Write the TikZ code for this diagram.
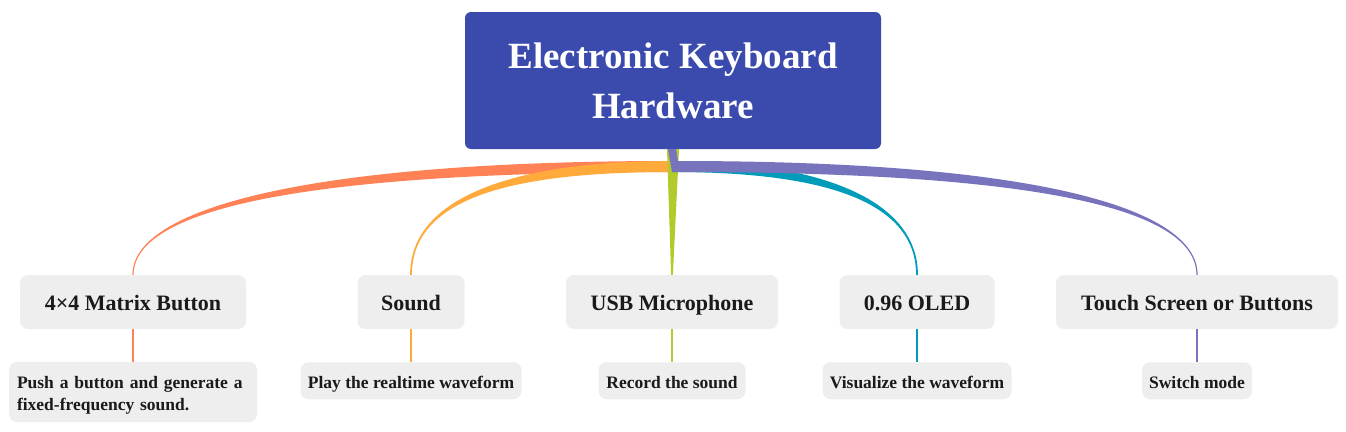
\documentclass[tikz,border=0pt]{standalone}
\usepackage{fontspec}
\setmainfont{Liberation Serif}
\usetikzlibrary{calc}
\definecolor{rootblue}{HTML}{3B4AAD}
\definecolor{boxgray}{HTML}{EEEEEE}
\definecolor{txtdark}{HTML}{1A1A1A}
\definecolor{bsalmon}{HTML}{FF8257}
\definecolor{bamber}{HTML}{FFAA3B}
\definecolor{bgreen}{HTML}{B4C92A}
\definecolor{bteal}{HTML}{009CBA}
\definecolor{bpurple}{HTML}{7773BD}
\begin{document}
\begin{tikzpicture}[x=1pt,y=-1pt,
  rootbox/.style={fill=rootblue,rounded corners=6pt,text=white,inner sep=0pt,
    minimum width=416pt,minimum height=137pt,align=center,
    font=\fontsize{37}{50}\selectfont\bfseries},
  childbox/.style={fill=boxgray,rounded corners=8pt,text=txtdark,inner sep=0pt,
    minimum height=54pt,text height=21pt,text depth=5pt,
    font=\fontsize{22}{26}\selectfont\bfseries},
  leafbox/.style={fill=boxgray,rounded corners=8pt,text=txtdark,inner sep=0pt,
    minimum height=37pt,font=\fontsize{17.5}{22}\selectfont\bfseries},
  leafone/.style={leafbox,text height=18pt,text depth=3.5pt},
  leafline/.style={line width=2pt}]
\useasboundingbox (0,0) rectangle (1346,431);

% nodes
\node[rootbox] (root) at (673,80.5) {Electronic Keyboard\\Hardware};
\node[childbox,minimum width=226pt] (n1) at (133,302) {4×4 Matrix Button};
\node[childbox,minimum width=107pt] (n2) at (411,302) {Sound};
\node[childbox,minimum width=212pt] (n3) at (672,302) {USB Microphone};
\node[childbox,minimum width=155pt] (n4) at (917,302) {0.96 OLED};
\node[childbox,minimum width=282pt] (n5) at (1197,302) {Touch Screen or Buttons};

\node[leafbox,minimum height=60pt,text width=232pt,inner xsep=8pt,align=left] (l1) at (133,392)
  {\rule{0pt}{19pt}Push a button and generate a\\fixed-frequency sound.};
\node[leafone,minimum width=221pt] (l2) at (411,380.75) {Play the realtime waveform};
\node[leafone,minimum width=147pt] (l3) at (672,380.75) {Record the sound};
\node[leafone,minimum width=189pt] (l4) at (917,380.75) {Visualize the waveform};
\node[leafone,minimum width=110pt] (l5) at (1197,380.75) {Switch mode};

\coordinate (hub) at (672,166.5);

% tapered branches
\fill[bsalmon] ($(hub)+(0,-5.5)$) .. controls (300,161) and ($(n1.north)+(-0.6,-65)$) .. ($(n1.north)+(-0.6,0)$)
  -- ($(n1.north)+(0.6,0)$) .. controls ($(n1.north)+(0.6,-65)$) and (300,172) .. ($(hub)+(0,5.5)$) -- cycle;
\fill[bamber] ($(hub)+(0,-5.5)$) .. controls (520,161) and ($(n2.north)+(-0.9,-80)$) .. ($(n2.north)+(-0.9,0)$)
  -- ($(n2.north)+(0.9,0)$) .. controls ($(n2.north)+(0.9,-80)$) and (520,172) .. ($(hub)+(0,5.5)$) -- cycle;
\fill[bgreen] ($(root.south)+(-6,0)$) -- ($(root.south)+(6,0)$) -- ($(n3.north)+(0.9,0)$) -- ($(n3.north)+(-0.9,0)$) -- cycle;
\fill[bteal] ($(hub)+(0,-5.5)$) .. controls (815,161) and ($(n4.north)+(0.9,-77)$) .. ($(n4.north)+(0.9,0)$)
  -- ($(n4.north)+(-0.9,0)$) .. controls ($(n4.north)+(-0.9,-77)$) and (815,172) .. ($(hub)+(0,5.5)$) -- cycle;
\fill[bpurple] ($(root.south)+(-5,0)$) -- ($(root.south)+(3,0)$) -- ($(hub)+(6,-5.5)$)
  .. controls (1044,161) and ($(n5.north)+(0.6,-65)$) .. ($(n5.north)+(0.6,0)$)
  -- ($(n5.north)+(-0.6,0)$) .. controls ($(n5.north)+(-0.6,-65)$) and (1044,172) .. ($(hub)+(6,5.5)$)
  -- ($(hub)+(0,5.5)$) -- cycle;

% leaf connectors
\draw[leafline,bsalmon] (n1.south) -- (l1.north);
\draw[leafline,bamber] (n2.south) -- (l2.north);
\draw[leafline,bgreen] (n3.south) -- (l3.north);
\draw[leafline,bteal] (n4.south) -- (l4.north);
\draw[leafline,bpurple] (n5.south) -- (l5.north);
\end{tikzpicture}
\end{document}
